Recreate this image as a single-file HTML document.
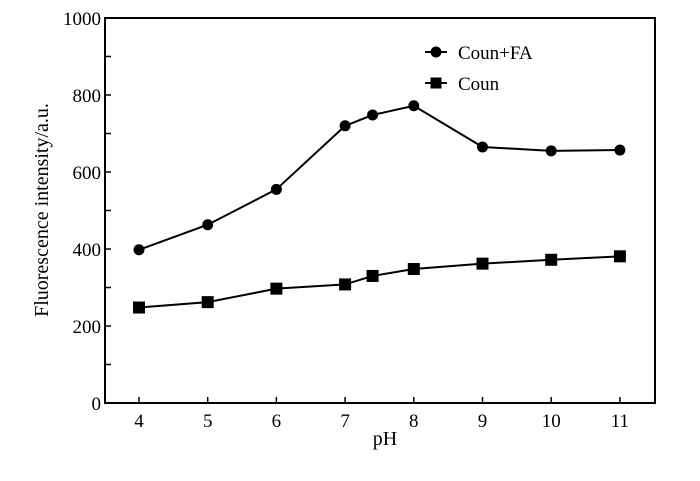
<!DOCTYPE html>
<html><head><meta charset="utf-8"><style>
body{margin:0;background:#fff}
svg{display:block;font-family:"Liberation Serif",serif}
</style></head><body>
<svg id="chart" width="700" height="481">
<rect x="105" y="18" width="550" height="385" fill="none" stroke="#000" stroke-width="2"/>
<g id="axes"></g>
<g id="series"></g>
<text x="48" y="210" font-size="20" text-anchor="middle" transform="rotate(-90 48 210)">Fluorescence intensity/a.u.</text>
<text x="385" y="445" font-size="20" text-anchor="middle">pH</text>
<g>
<line x1="425" y1="52" x2="447" y2="52" stroke="#000" stroke-width="2"/>
<circle cx="436" cy="52" r="5.5" fill="#000"/>
<text x="458" y="59" font-size="19">Coun+FA</text>
<line x1="425" y1="83" x2="447" y2="83" stroke="#000" stroke-width="2"/>
<rect x="430.5" y="77.5" width="11" height="11" fill="#000"/>
<text x="458" y="90" font-size="19">Coun</text>
</g>
</svg>
<script>
const xTicks=[4,5,6,7,8,9,10,11];
const yTicks=[0,200,400,600,800,1000];
const pH=[4,5,6,7,7.4,8,9,10,11];
const counFA=[398,463,555,720,748,772,665,655,657];
const coun=[248,262,297,308,330,348,362,372,381];
const NS="http://www.w3.org/2000/svg";
function sx(v){return 139+(v-4)*68.7;}
function sy(v){return 403-v*0.385;}
function mk(t,a,p){const e=document.createElementNS(NS,t);for(const k in a)e.setAttribute(k,a[k]);p.appendChild(e);return e;}
const ax=document.getElementById('axes');
xTicks.forEach(t=>{
 mk('line',{x1:sx(t),x2:sx(t),y1:403,y2:397,stroke:'#000','stroke-width':1.5},ax);
 const tx=mk('text',{x:sx(t),y:427,'font-size':19,'text-anchor':'middle'},ax);
 tx.textContent=t;
 
 
});
for(let v=0;v<=1000;v+=100){mk('line',{x1:105,x2:111,y1:sy(v),y2:sy(v),stroke:'#000','stroke-width':1.5},ax);}
yTicks.forEach(t=>{
 const tx=mk('text',{x:101,y:sy(t)+7,'font-size':19,'text-anchor':'end'},ax);
 tx.textContent=t;
 
 
});
const sg=document.getElementById('series');
function draw(vals,shape,name){
 const pl=mk('polyline',{points:pH.map((x,i)=>sx(x)+','+sy(vals[i])).join(' '),fill:'none',stroke:'#000','stroke-width':2},sg);
 
 
 pH.forEach((x,i)=>{
  let e;
  if(shape==='c')e=mk('circle',{cx:sx(x),cy:sy(vals[i]),r:5.5,fill:'#000'},sg);
  else e=mk('rect',{x:sx(x)-6,y:sy(vals[i])-6,width:12,height:12,fill:'#000'},sg);
  
  
 });
}
draw(counFA,'c','coun-fa');
draw(coun,'s','coun');
</script>
</body></html>
